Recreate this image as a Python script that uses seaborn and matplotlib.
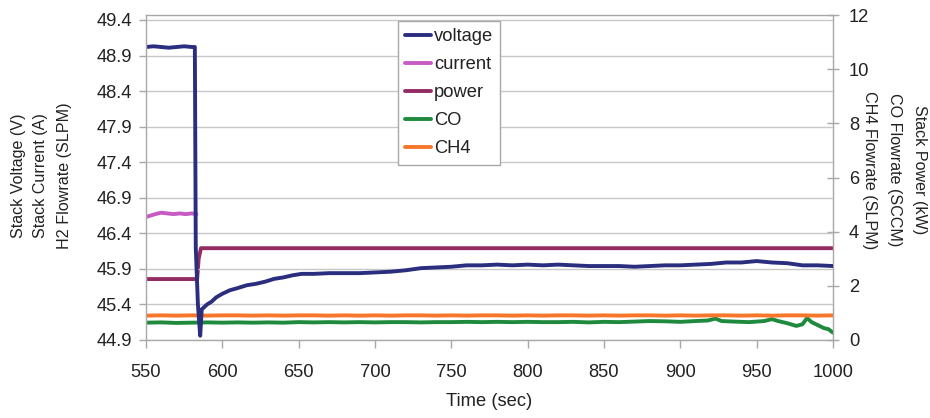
import matplotlib
matplotlib.use("Agg")
import matplotlib.pyplot as plt
import seaborn as sns
import pandas as pd

# ---- data -------------------------------------------------------------
# Stack voltage (V), left axis
volt_t = [550, 555, 560, 565, 570, 575, 580, 582.0, 582.6, 584.0, 585.5, 586.5,
          588, 590, 593, 596, 600, 605, 610, 616, 622, 628, 634, 640, 646, 652,
          660, 670, 680, 690, 700, 710, 720, 730, 740, 750, 760, 770, 780, 790,
          800, 810, 820, 830, 840, 850, 860, 870, 880, 890, 900, 910, 920, 930,
          940, 950, 960, 970, 980, 990, 1000]
volt_v = [49.02, 49.03, 49.02, 49.01, 49.02, 49.03, 49.02, 49.02, 46.20, 45.40, 44.96, 45.33,
          45.36, 45.40, 45.44, 45.50, 45.55, 45.60, 45.63, 45.67, 45.69, 45.72, 45.76, 45.78, 45.81, 45.83,
          45.83, 45.84, 45.84, 45.84, 45.85, 45.86, 45.88, 45.91, 45.92, 45.93, 45.95, 45.95, 45.96, 45.95,
          45.96, 45.95, 45.96, 45.95, 45.94, 45.94, 45.94, 45.93, 45.94, 45.95, 45.95, 45.96, 45.97, 45.99,
          45.99, 46.01, 45.99, 45.98, 45.95, 45.95, 45.94]

# Stack current (A), left axis (on scale only before the load step)
curr_t = [550, 553, 556, 560, 564, 568, 572, 576, 580, 583]
curr_v = [46.63, 46.65, 46.67, 46.69, 46.68, 46.67, 46.68, 46.67, 46.68, 46.67]

# Stack power (kW), right axis
pow_t = [550, 560, 570, 580, 583.5, 584.5, 586, 600, 650, 700, 750, 800, 850, 900, 950, 1000]
pow_v = [2.25, 2.25, 2.25, 2.25, 2.25, 3.00, 3.39, 3.39, 3.39, 3.39, 3.39, 3.39, 3.39, 3.39, 3.39, 3.39]

# CO flowrate (SCCM), right axis
co_t = [550, 560, 570, 580, 590, 600, 610, 620, 630, 640, 650, 660, 670, 680, 690,
        700, 710, 720, 730, 740, 750, 760, 770, 780, 790, 800, 810, 820, 830, 840,
        850, 860, 870, 880, 890, 900, 910, 918, 923, 927, 935, 945, 955, 960, 964,
        970, 976, 980, 983, 986, 990, 994, 997, 1000]
co_v = [0.64, 0.65, 0.63, 0.64, 0.65, 0.64, 0.65, 0.64, 0.65, 0.64, 0.66, 0.65, 0.66, 0.65, 0.66,
        0.65, 0.66, 0.66, 0.65, 0.66, 0.66, 0.67, 0.66, 0.67, 0.66, 0.67, 0.66, 0.66, 0.67, 0.65,
        0.67, 0.66, 0.68, 0.70, 0.69, 0.67, 0.70, 0.72, 0.79, 0.70, 0.68, 0.66, 0.70, 0.77, 0.70,
        0.62, 0.52, 0.58, 0.81, 0.66, 0.55, 0.44, 0.40, 0.27]

# CH4 flowrate (SLPM), right axis
ch4_t = [550, 560, 570, 580, 590, 600, 610, 620, 630, 640, 650, 660, 670, 680, 690,
         700, 710, 720, 730, 740, 750, 760, 770, 780, 790, 800, 810, 820, 830, 840,
         850, 860, 870, 880, 890, 900, 910, 920, 930, 940, 950, 960, 970, 980, 990, 1000]
ch4_v = [0.90, 0.91, 0.90, 0.91, 0.90, 0.91, 0.91, 0.90, 0.91, 0.90, 0.91, 0.91, 0.90, 0.91, 0.90,
         0.91, 0.90, 0.91, 0.91, 0.90, 0.91, 0.90, 0.91, 0.91, 0.90, 0.91, 0.90, 0.91, 0.91, 0.90,
         0.91, 0.90, 0.91, 0.91, 0.90, 0.91, 0.90, 0.91, 0.91, 0.90, 0.91, 0.90, 0.91, 0.91, 0.90, 0.91]

x_ticks = [550, 600, 650, 700, 750, 800, 850, 900, 950, 1000]
left_ticks = [44.9, 45.4, 45.9, 46.4, 46.9, 47.4, 47.9, 48.4, 48.9, 49.4]
right_ticks = [0, 2, 4, 6, 8, 10, 12]

left_title = ["Stack Voltage (V)", "Stack Current (A)", "H2 Flowrate (SLPM)"]
right_title = ["Stack Power (kW)", "CO Flowrate (SCCM)", "CH4 Flowrate (SLPM)"]

# ---- style ------------------------------------------------------------
sns.set_style("white")
plt.rcParams["font.family"] = ["Liberation Sans", "DejaVu Sans"]
TXT = "#222222"
GRID = "#C8C8C8"
SPINE = "#A8A8A8"
FS = 13.2        # tick labels, legend, x title
FS_Y = 11.6      # stacked y titles

colors = {
    "voltage": "#2B2E7E",
    "current": "#C75BC3",
    "power": "#922C63",
    "CO": "#1F8A3E",
    "CH4": "#F8762A",
}
LW = 2.8

W, H = 930, 418
fig = plt.figure(figsize=(W / 100, H / 100), dpi=100)
ax = fig.add_axes([146 / W, 1 - 340 / H, (833 - 146) / W, (340 - 15) / H])
ax2 = ax.twinx()

volt_df = pd.DataFrame({"t": volt_t, "v": volt_v})
curr_df = pd.DataFrame({"t": curr_t, "v": curr_v})
pow_df = pd.DataFrame({"t": pow_t, "v": pow_v})
co_df = pd.DataFrame({"t": co_t, "v": co_v})
ch4_df = pd.DataFrame({"t": ch4_t, "v": ch4_v})

# right-axis series
sns.lineplot(data=pow_df, x="t", y="v", ax=ax2, color=colors["power"], lw=LW,
             estimator=None, sort=False, label="power", legend=False)
sns.lineplot(data=co_df, x="t", y="v", ax=ax2, color=colors["CO"], lw=LW,
             estimator=None, sort=False, label="CO", legend=False)
sns.lineplot(data=ch4_df, x="t", y="v", ax=ax2, color=colors["CH4"], lw=LW,
             estimator=None, sort=False, label="CH4", legend=False)

# left-axis series
sns.lineplot(data=curr_df, x="t", y="v", ax=ax, color=colors["current"], lw=LW,
             estimator=None, sort=False, label="current", legend=False)
sns.lineplot(data=volt_df, x="t", y="v", ax=ax, color=colors["voltage"], lw=LW,
             estimator=None, sort=False, label="voltage", legend=False)

# keep the voltage trace above the secondary-axis traces
ax.set_zorder(ax2.get_zorder() + 1)
ax.patch.set_visible(False)

# axes limits / ticks
ax.set_xlim(550, 1000)
ax.set_ylim(44.9, 49.47)
ax2.set_ylim(0, 12)
ax.set_xticks(x_ticks)
ax.set_yticks(left_ticks)
ax.set_yticklabels([f"{v:.1f}" for v in left_ticks])
ax2.set_yticks(right_ticks)

ax.grid(axis="y", color=GRID, lw=1.0)
ax.grid(axis="x", visible=False)
ax2.grid(False)

for a in (ax, ax2):
    for s in a.spines.values():
        s.set_visible(False)
for s in (ax.spines["left"], ax.spines["bottom"], ax2.spines["right"], ax2.spines["top"]):
    s.set_visible(True)
    s.set_color(SPINE)
    s.set_linewidth(1.0)

ax.tick_params(axis="x", direction="out", length=6, width=1, color=SPINE,
               labelsize=FS, labelcolor=TXT, pad=11, bottom=True)
ax.tick_params(axis="y", direction="out", length=5, width=1, color=SPINE,
               labelsize=FS, labelcolor=TXT, pad=5, left=True)
ax2.tick_params(axis="y", direction="inout", length=9, width=1, color=SPINE,
                labelsize=FS, labelcolor=TXT, pad=7, right=True)

ax.set_xlabel("")
ax.set_ylabel("")
ax2.set_ylabel("")
fig.text(489 / W, 1 - 401 / H, "Time (sec)", fontsize=FS, color=TXT,
         ha="center", va="center")

# stacked axis titles, one line each
for i, line in enumerate(left_title):
    fig.text((18 + 23 * i) / W, 1 - 176 / H, line, fontsize=FS_Y, color=TXT,
             rotation=90, ha="center", va="center")
for i, line in enumerate(right_title):
    fig.text((919 - 24.5 * i) / W, 1 - 170 / H, line, fontsize=FS_Y, color=TXT,
             rotation=270, ha="center", va="center")

# legend in the listed order
h1, l1 = ax.get_legend_handles_labels()
h2, l2 = ax2.get_legend_handles_labels()
hmap = dict(zip(l1 + l2, h1 + h2))
order = ["voltage", "current", "power", "CO", "CH4"]
leg = fig.legend([hmap[k] for k in order], order, loc="upper left",
                 bbox_to_anchor=(398 / W, 1 - 21 / H), fontsize=FS,
                 frameon=True, fancybox=False, framealpha=1, edgecolor=SPINE,
                 handlelength=1.4, handletextpad=0.15, labelspacing=0.6,
                 borderpad=0.4, borderaxespad=0)
leg.get_frame().set_linewidth(1.0)
for t in leg.get_texts():
    t.set_color(TXT)

fig.savefig("out.png", dpi=100)
